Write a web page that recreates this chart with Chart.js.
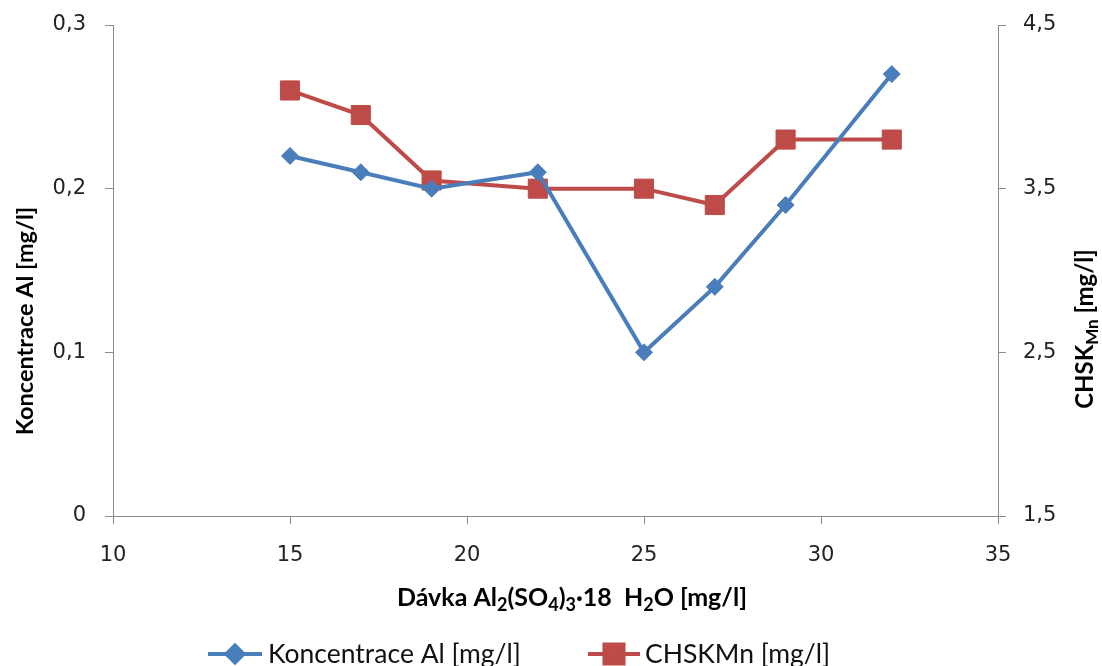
<!DOCTYPE html>
<html lang="cs">
<head>
    <meta charset="UTF-8">
    <title>Koncentrace Al a CHSKMn</title>
    <script src="https://cdn.jsdelivr.net/npm/chart.js"></script>
    <style>
        body {
            margin: 0;
            background: #ffffff;
        }
        #chart {
            display: block;
        }
    </style>
</head>
<body>
    <canvas id="chart" width="1102" height="666"></canvas>

    <script>
        // Dávka koagulantu [mg/l]
        const doses = [15, 17, 19, 22, 25, 27, 29, 32];
        // Koncentrace Al [mg/l]
        const aluminium = [0.22, 0.21, 0.20, 0.21, 0.10, 0.14, 0.19, 0.27];
        // CHSKMn [mg/l]
        const codMn = [4.1, 3.95, 3.55, 3.5, 3.5, 3.4, 3.8, 3.8];

        // Axis ticks
        const xTicks = [10, 15, 20, 25, 30, 35];
        const leftTicks = [0, 0.1, 0.2, 0.3];
        const leftTickLabels = ['0', '0,1', '0,2', '0,3'];
        const rightTicks = [1.5, 2.5, 3.5, 4.5];
        const rightTickLabels = ['1,5', '2,5', '3,5', '4,5'];

        const seriesNames = ['Koncentrace Al [mg/l]', 'CHSKMn [mg/l]'];

        const BLUE = '#4a7ebb';
        const RED = '#be4b48';
        const AXIS = '#8a8a8a';
        const TICK_FONT = { family: 'DejaVu Sans', size: 21 };
        const LEGEND_FONT = '26.5px Lato';

        // Draws a run of text parts, some of them as subscripts, centred on (cx, cy)
        function drawRich(ctx, parts, cx, cy, angle, size) {
            const subSize = Math.round(size * 0.7);
            ctx.save();
            ctx.translate(cx, cy);
            ctx.rotate(angle);
            ctx.textBaseline = 'middle';
            ctx.fillStyle = '#000';
            let total = 0;
            parts.forEach(p => {
                ctx.font = 'bold ' + (p.sub ? subSize : size) + 'px Lato';
                total += ctx.measureText(p.t).width;
            });
            let x = -total / 2;
            parts.forEach(p => {
                ctx.font = 'bold ' + (p.sub ? subSize : size) + 'px Lato';
                ctx.textAlign = 'left';
                ctx.fillText(p.t, x, p.sub ? size * 0.3 : 0);
                x += ctx.measureText(p.t).width;
            });
            ctx.restore();
        }

        const titlesAndLegend = {
            id: 'titlesAndLegend',
            afterDraw(chart) {
                const ctx = chart.ctx;

                drawRich(ctx, [
                    { t: 'Dávka Al' }, { t: '2', sub: true }, { t: '(SO' }, { t: '4', sub: true },
                    { t: ')' }, { t: '3', sub: true }, { t: '·18  H' }, { t: '2', sub: true },
                    { t: 'O [mg/l]' }
                ], 572, 598, 0, 25);

                drawRich(ctx, [{ t: 'Koncentrace Al [mg/l]' }], 25, 321, -Math.PI / 2, 23.5);

                drawRich(ctx, [{ t: 'CHSK' }, { t: 'Mn', sub: true }, { t: ' [mg/l]' }],
                    1085, 329, -Math.PI / 2, 24);

                // Legend: line segment with the series marker in the middle
                const items = [
                    { x0: 208, x1: 262, text: 268, color: BLUE, shape: 'rectRot', r: 8.5 },
                    { x0: 588, x1: 640, text: 645, color: RED, shape: 'rect', r: 13.5 }
                ];
                const y = 654;
                items.forEach((it, i) => {
                    ctx.save();
                    ctx.strokeStyle = it.color;
                    ctx.lineWidth = 4;
                    ctx.beginPath();
                    ctx.moveTo(it.x0, y);
                    ctx.lineTo(it.x1, y);
                    ctx.stroke();
                    ctx.fillStyle = it.color;
                    Chart.helpers.drawPoint(ctx, {
                        pointStyle: it.shape, radius: it.r, rotation: 0, borderWidth: 1
                    }, (it.x0 + it.x1) / 2, y);
                    ctx.font = LEGEND_FONT;
                    ctx.fillStyle = '#111';
                    ctx.textAlign = 'left';
                    ctx.textBaseline = 'middle';
                    ctx.fillText(chart.data.datasets[i].label, it.text, y);
                    ctx.restore();
                });
            }
        };

        function axisGrid() {
            return {
                drawOnChartArea: false,
                drawTicks: true,
                tickLength: 8,
                color: AXIS,
                lineWidth: 1
            };
        }

        // fixed axis sizes, without the extra room Chart.js keeps for edge labels
        function fitY(width) {
            return s => {
                s.width = width;
                s.paddingTop = 0;
                s.paddingBottom = 0;
            };
        }

        new Chart(document.getElementById('chart'), {
            type: 'line',
            data: {
                datasets: [
                    {
                        label: seriesNames[0],
                        data: doses.map((d, i) => ({ x: d, y: aluminium[i] })),
                        yAxisID: 'yLeft',
                        borderColor: BLUE,
                        backgroundColor: BLUE,
                        borderWidth: 4,
                        pointStyle: 'rectRot',
                        pointRadius: 8.5,
                        pointBorderWidth: 1,
                        tension: 0
                    },
                    {
                        label: seriesNames[1],
                        data: doses.map((d, i) => ({ x: d, y: codMn[i] })),
                        yAxisID: 'yRight',
                        borderColor: RED,
                        backgroundColor: RED,
                        borderWidth: 4,
                        pointStyle: 'rect',
                        pointRadius: 13.5,
                        pointBorderWidth: 1,
                        tension: 0
                    }
                ]
            },
            options: {
                responsive: false,
                animation: false,
                layout: { padding: { top: 25, left: 0, right: 0, bottom: 0 } },
                plugins: {
                    legend: { display: false },
                    tooltip: { enabled: false }
                },
                scales: {
                    x: {
                        type: 'linear',
                        position: 'bottom',
                        min: 10,
                        max: 35,
                        afterBuildTicks: s => { s.ticks = xTicks.map(v => ({ value: v })); },
                        afterFit: s => {
                            s.height = 150;
                            s.paddingLeft = 0;
                            s.paddingRight = 0;
                        },
                        grid: axisGrid(),
                        border: { color: AXIS, width: 1 },
                        ticks: {
                            font: TICK_FONT,
                            color: '#222',
                            padding: 19,
                            maxRotation: 0
                        }
                    },
                    yLeft: {
                        type: 'linear',
                        position: 'left',
                        min: 0,
                        max: 0.3,
                        afterBuildTicks: s => { s.ticks = leftTicks.map(v => ({ value: v })); },
                        afterFit: fitY(113),
                        grid: axisGrid(),
                        border: { color: AXIS, width: 1 },
                        ticks: {
                            font: TICK_FONT,
                            color: '#222',
                            padding: 19,
                            callback: v => leftTickLabels[leftTicks.findIndex(t => Math.abs(t - v) < 1e-9)]
                        }
                    },
                    yRight: {
                        type: 'linear',
                        position: 'right',
                        min: 1.5,
                        max: 4.5,
                        afterBuildTicks: s => { s.ticks = rightTicks.map(v => ({ value: v })); },
                        afterFit: fitY(104),
                        grid: axisGrid(),
                        border: { color: AXIS, width: 1 },
                        ticks: {
                            font: TICK_FONT,
                            color: '#222',
                            padding: 17,
                            callback: v => rightTickLabels[rightTicks.findIndex(t => Math.abs(t - v) < 1e-9)]
                        }
                    }
                }
            },
            plugins: [titlesAndLegend]
        });
    </script>
</body>
</html>
